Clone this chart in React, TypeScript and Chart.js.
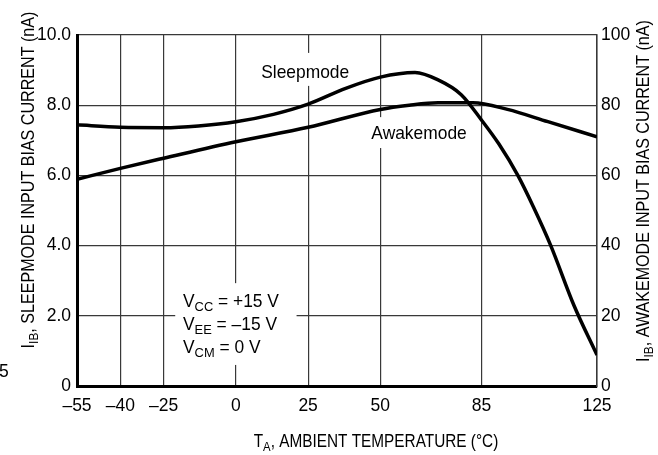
import React, { useEffect, useRef } from "react";
import { Chart, registerables } from "chart.js";

Chart.register(...registerables);

const FONT = '"Liberation Sans", Arial, Helvetica, sans-serif';
const FS = 18.5;
const TICK_FS = 17.5;

// Axis ticks
const xTicks = [-55, -40, -25, 0, 25, 50, 85, 125];
const xTickLabels = ["–55", "–40", "–25", "0", "25", "50", "85", "125"];
const leftTicks = [0, 2, 4, 6, 8, 10];
const leftTickLabels = ["0", "2.0", "4.0", "6.0", "8.0", "10.0"];
const rightTicks = [0, 20, 40, 60, 80, 100];
const rightTickLabels = ["0", "20", "40", "60", "80", "100"];

// Sleepmode input bias current (nA, left axis)
const sleepTemps = [-55, -40, -25, -13, 0, 13, 25, 38, 50, 62, 70, 78, 85, 91, 97.6, 103, 109, 117, 125];
const sleepCurrent = [7.44, 7.37, 7.36, 7.41, 7.53, 7.74, 8.03, 8.48, 8.8, 8.93, 8.72, 8.3, 7.58, 6.9, 6.0, 5.1, 4.0, 2.3, 0.88];

// Awakemode input bias current (nA, right axis)
const awakeTemps = [-55, -40, -25, 0, 25, 50, 60, 70, 82, 94, 108, 125];
const awakeCurrent = [58.9, 62, 64.9, 69.6, 73.7, 78.8, 80, 80.7, 80.7, 78.8, 75.3, 71];

type Part = { t: string; sub?: boolean };

function measureRich(ctx: CanvasRenderingContext2D, parts: Part[], size: number) {
  let w = 0;
  for (const p of parts) {
    ctx.font = `${p.sub ? size * 0.74 : size}px ${FONT}`;
    w += ctx.measureText(p.t).width;
  }
  return w;
}

function drawRich(
  ctx: CanvasRenderingContext2D,
  parts: Part[],
  x: number,
  y: number,
  size: number,
  align: "left" | "center",
  hs: number
) {
  const w = measureRich(ctx, parts, size);
  ctx.save();
  ctx.translate(x, y);
  ctx.scale(hs, 1);
  let cx = align === "center" ? -w / 2 : 0;
  ctx.textAlign = "left";
  ctx.textBaseline = "alphabetic";
  for (const p of parts) {
    ctx.font = `${p.sub ? size * 0.74 : size}px ${FONT}`;
    ctx.fillText(p.t, cx, p.sub ? size * 0.24 : 0);
    cx += ctx.measureText(p.t).width;
  }
  ctx.restore();
}

const annotationPlugin = {
  id: "annotations",
  beforeDatasetsDraw(chart: any) {
    const { ctx, scales } = chart;
    const sx = scales.x;
    const sy = scales.yL;
    const px = (v: number) => sx.getPixelForValue(v);
    const py = (v: number) => sy.getPixelForValue(v);
    ctx.save();
    // white backgrounds that interrupt the grid behind labels
    ctx.fillStyle = "#fff";
    const boxes = [
      [8, 9.49, 40, 8.55],
      [46, 7.66, 81, 6.78],
      [-21, 2.93, 21, 0.6],
    ];
    for (const [t0, v0, t1, v1] of boxes) {
      ctx.fillRect(px(t0), py(v0), px(t1) - px(t0), py(v1) - py(v0));
    }
    ctx.fillStyle = "#000";
    drawRich(ctx, [{ t: "Sleepmode" }], px(24), py(8.95) + 6.5, FS, "center", 0.94);
    drawRich(ctx, [{ t: "Awakemode" }], px(63.4), py(7.21) + 6.5, FS, "center", 0.94);
    const lx = px(-18.3);
    drawRich(ctx, [{ t: "V" }, { t: "CC", sub: true }, { t: " = +15 V" }], lx, py(2.26), FS, "left", 0.94);
    drawRich(ctx, [{ t: "V" }, { t: "EE", sub: true }, { t: " = –15 V" }], lx, py(1.6), FS, "left", 0.94);
    drawRich(ctx, [{ t: "V" }, { t: "CM", sub: true }, { t: " = 0 V" }], lx, py(0.94), FS, "left", 0.94);
    ctx.restore();
  },
  afterDraw(chart: any) {
    const { ctx } = chart;
    ctx.save();
    ctx.fillStyle = "#000";
    // x title
    drawRich(ctx, [{ t: "T" }, { t: "A", sub: true }, { t: ", AMBIENT TEMPERATURE (°C)" }], 376, 447, FS, "center", 0.83);
    // left title
    ctx.save();
    ctx.translate(27, 180);
    ctx.rotate(-Math.PI / 2);
    drawRich(ctx, [{ t: "I" }, { t: "IB", sub: true }, { t: ", SLEEPMODE INPUT BIAS CURRENT (nA)" }], 0, 6.5, FS, "center", 0.87);
    ctx.restore();
    // right title
    ctx.save();
    ctx.translate(642, 191);
    ctx.rotate(-Math.PI / 2);
    drawRich(ctx, [{ t: "I" }, { t: "IB", sub: true }, { t: ", AWAKEMODE INPUT BIAS CURRENT (nA)" }], 0, 6.5, FS, "center", 0.87);
    ctx.restore();
    // stray fragment at left edge
    ctx.font = `${TICK_FS}px ${FONT}`;
    ctx.textAlign = "left";
    ctx.textBaseline = "middle";
    ctx.fillText("5", -1, 372);
    ctx.restore();
  },
};

export default function App() {
  const ref = useRef<HTMLCanvasElement | null>(null);
  useEffect(() => {
    if (!ref.current) return;
    const font = { family: FONT, size: TICK_FS };
    const chart = new Chart(ref.current, {
      type: "line",
      data: {
        datasets: [
          {
            label: "Sleepmode",
            data: sleepTemps.map((t, i) => ({ x: t, y: sleepCurrent[i] })),
            yAxisID: "yL",
            borderColor: "#000",
            borderWidth: 3.5,
            pointRadius: 0,
            cubicInterpolationMode: "monotone",
            fill: false,
          },
          {
            label: "Awakemode",
            data: awakeTemps.map((t, i) => ({ x: t, y: awakeCurrent[i] })),
            yAxisID: "yR",
            borderColor: "#000",
            borderWidth: 3.5,
            pointRadius: 0,
            cubicInterpolationMode: "monotone",
            fill: false,
          },
        ],
      },
      options: {
        responsive: false,
        animation: false,
        layout: { padding: { top: 35, left: 0, right: 0, bottom: 0 } },
        plugins: { legend: { display: false }, tooltip: { enabled: false } },
        scales: {
          x: {
            type: "linear",
            min: -55,
            max: 125,
            afterBuildTicks: (s: any) => {
              s.ticks = xTicks.map((v) => ({ value: v }));
            },
            afterFit: (s: any) => {
              s.height = 69;
            },
            ticks: {
              callback: (v: any) => xTickLabels[xTicks.indexOf(Number(v))],
              font,
              color: "#000",
              padding: 10,
              maxRotation: 0,
              autoSkip: false,
            },
            grid: { color: "#383838", lineWidth: 1.2, drawTicks: false },
            border: { display: true, width: 3, color: "#000" },
          },
          yL: {
            type: "linear",
            position: "left",
            min: 0,
            max: 10,
            afterBuildTicks: (s: any) => {
              s.ticks = leftTicks.map((v) => ({ value: v }));
            },
            afterFit: (s: any) => {
              s.width = 77;
            },
            ticks: {
              callback: (v: any) => leftTickLabels[leftTicks.indexOf(Number(v))],
              font,
              color: "#000",
              padding: 6,
            },
            grid: { color: "#383838", lineWidth: 1.2, drawTicks: false },
            border: { display: true, width: 3, color: "#000" },
          },
          yR: {
            type: "linear",
            position: "right",
            min: 0,
            max: 100,
            afterBuildTicks: (s: any) => {
              s.ticks = rightTicks.map((v) => ({ value: v }));
            },
            afterFit: (s: any) => {
              s.width = 61;
            },
            ticks: {
              callback: (v: any) => rightTickLabels[rightTicks.indexOf(Number(v))],
              font,
              color: "#000",
              padding: 4,
            },
            grid: { display: false, drawTicks: false },
            border: { display: true, width: 1.5, color: "#383838" },
          },
        },
      },
      plugins: [annotationPlugin],
    } as any);
    return () => chart.destroy();
  }, []);
  return (
    <div style={{ position: "fixed", left: 0, top: 0, width: 658, height: 455, background: "#fff" }}>
      <canvas ref={ref} width={658} height={455} style={{ display: "block", width: 658, height: 455 }} />
    </div>
  );
}
